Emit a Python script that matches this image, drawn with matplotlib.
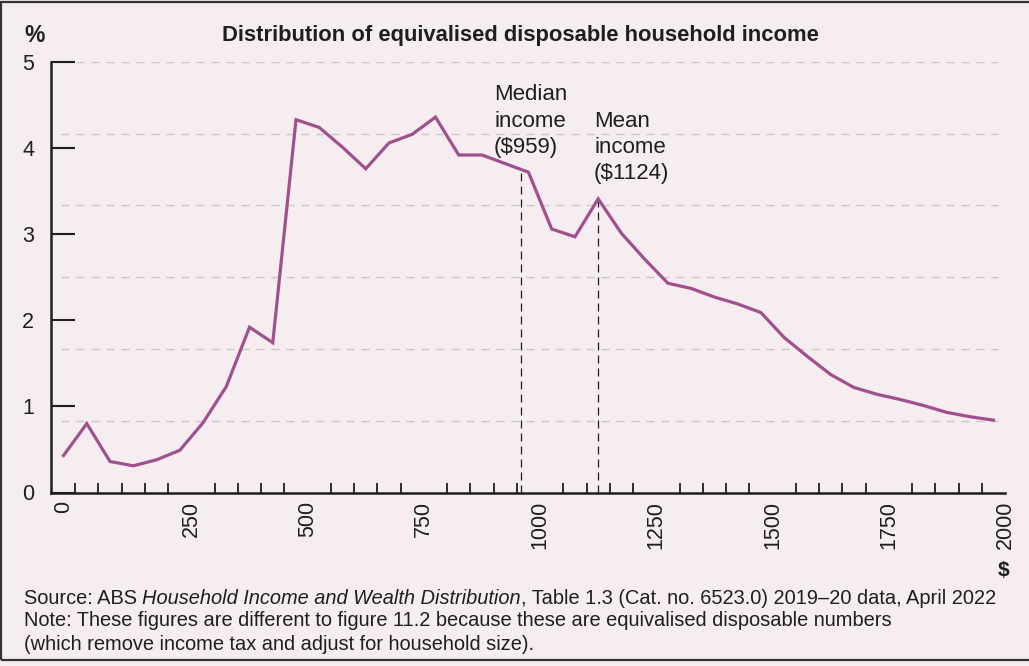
import matplotlib
matplotlib.use("Agg")
import matplotlib.pyplot as plt
from matplotlib.patches import Rectangle

# income bands ($ per week, plotted at band midpoints) and share of persons (%)
income = [-25, 25, 75, 125, 175, 225, 275, 325, 375, 425,
          475, 525, 575, 625, 675, 725, 775, 825, 875, 925,
          975, 1025, 1075, 1125, 1175, 1225, 1275, 1325, 1375, 1425,
          1475, 1525, 1575, 1625, 1675, 1725, 1775, 1825, 1875, 1925, 1975]
share = [0.43, 0.80, 0.36, 0.31, 0.38, 0.49, 0.81, 1.23, 1.92, 1.74,
         4.33, 4.24, 4.01, 3.76, 4.06, 4.16, 4.36, 3.92, 3.92, 3.82,
         3.72, 3.06, 2.97, 3.41, 3.01, 2.71, 2.43, 2.37, 2.27, 2.19,
         2.09, 1.80, 1.58, 1.37, 1.22, 1.14, 1.08, 1.01, 0.93, 0.88, 0.84]

median_income, median_level = 959, 3.72
mean_income, mean_level = 1124, 3.42

xtick_pos = [-25, 250, 500, 750, 1000, 1250, 1500, 1750, 2000]
xtick_labels = ["0", "250", "500", "750", "1000", "1250", "1500", "1750", "2000"]
ytick_pos = [0, 1, 2, 3, 4, 5]
grid_levels = [5 / 6, 10 / 6, 2.5, 20 / 6, 25 / 6, 5]

bg = "#f5edf0"
purple = "#a0508c"
ink = "#1e1e1e"

plt.rcParams["font.family"] = ["Liberation Sans", "DejaVu Sans"]

fig = plt.figure(figsize=(10.29, 6.66), dpi=100, facecolor=bg)
ax = fig.add_axes([51 / 1029, 173.5 / 666, 954 / 1029, 430.5 / 666])
ax.set_facecolor(bg)

# dashed horizontal guides
ax.hlines(grid_levels, -30, 1985, colors="#c9c9c9", lw=1.0,
          linestyles=(0, (5.8, 5)), zorder=1)

# median / mean markers
ax.vlines([median_income, mean_income], 0, [median_level, mean_level],
          colors=ink, lw=0.9, linestyles=(0, (6.4, 4)), zorder=2)

ax.plot(income, share, color=purple, lw=2.3, solid_joinstyle="miter", zorder=3)

ax.set_xlim(-52, 2000)
ax.set_ylim(0, 5)

for side in ["top", "right"]:
    ax.spines[side].set_visible(False)
for side in ["left", "bottom"]:
    ax.spines[side].set_linewidth(1.8)
    ax.spines[side].set_color(ink)

ax.set_yticks(ytick_pos)
ax.tick_params(axis="y", direction="in", length=17, width=1.5, pad=12,
               labelsize=15.5, colors=ink)

ax.set_xticks(xtick_pos)
ax.set_xticklabels(xtick_labels)
ax.set_xticks(list(range(0, 2001, 50)), minor=True)
ax.tick_params(axis="x", which="major", length=0, pad=6, labelsize=15.5,
               labelrotation=90, colors=ink)
ax.tick_params(axis="x", which="minor", direction="in", length=7, width=1.3,
               color=ink)

ax.text(901, 4.74, "Median\nincome\n($959)", fontsize=16, color=ink,
        ha="left", va="top", linespacing=1.32)
ax.text(1116, 4.43, "Mean\nincome\n($1124)", fontsize=16, color=ink,
        ha="left", va="top", linespacing=1.32)

fig.text(34.5 / 1029, 1 - 35 / 666, "%", fontsize=16.5, fontweight="bold",
         color=ink, ha="center", va="center")
fig.text(520 / 1029, 1 - 35 / 666,
         "Distribution of equivalised disposable household income",
         fontsize=15.8, fontweight="bold", color=ink, ha="center", va="center")
fig.text(1004 / 1029, 1 - 570 / 666, "$", fontsize=15, fontweight="bold",
         color=ink, ha="center", va="center")

# footer with italic publication title
fs = 14.4
t1 = fig.text(24 / 1029, 1 - 608 / 666, "Source: ABS ", fontsize=fs, color=ink,
              ha="left", va="bottom")
t2 = plt.annotate("Household Income and Wealth Distribution", xy=(1, 0),
                  xycoords=t1, fontsize=fs, style="italic", color=ink,
                  ha="left", va="bottom", annotation_clip=False)
plt.annotate(", Table 1.3 (Cat. no. 6523.0) 2019\u201320 data, April 2022",
             xy=(1, 0), xycoords=t2, fontsize=fs, color=ink,
             ha="left", va="bottom", annotation_clip=False)
fig.text(24 / 1029, 1 - 621 / 666,
         "Note: These figures are different to figure 11.2 because these are equivalised disposable numbers",
         fontsize=fs, color=ink, ha="left", va="center")
fig.text(24 / 1029, 1 - 645 / 666,
         "(which remove income tax and adjust for household size).",
         fontsize=fs, color=ink, ha="left", va="center")

# panel border (open on the right)
fig.patches.append(Rectangle((1 / 1029, 6 / 666), 1.05, 1 - 7.5 / 666,
                             transform=fig.transFigure, fill=False,
                             edgecolor="#333333", lw=1.6, clip_on=False))

fig.savefig("out.png", dpi=100, facecolor=bg)
